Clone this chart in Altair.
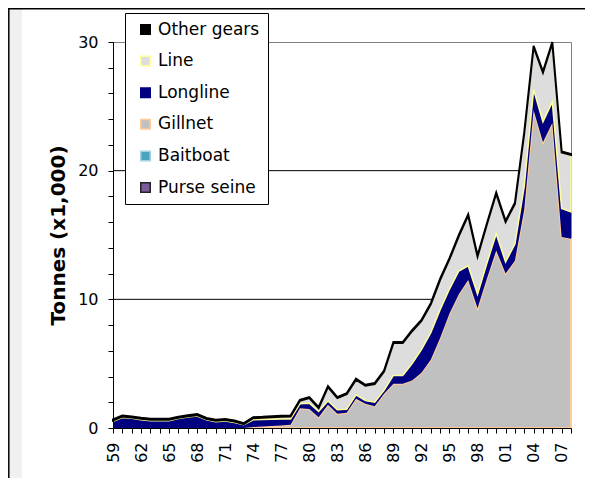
import altair as alt
import pandas as pd

years = list(range(1959, 2009))

purse_seine = [0.0, 0.0, 0.0, 0.0, 0.0, 0.0, 0.0, 0.0, 0.0, 0.0,
               0.0, 0.0, 0.0, 0.0, 0.0, 0.0, 0.0, 0.0, 0.0, 0.0,
               0.0, 0.0, 0.0, 0.0, 0.0, 0.0, 0.0, 0.0, 0.0, 0.0,
               0.0, 0.0, 0.0, 0.0, 0.0, 0.0, 0.0, 0.0, 0.0, 0.0,
               0.0, 0.0, 0.0, 0.0, 0.0, 0.0, 0.0, 0.0, 0.0, 0.0]
baitboat = [0.0, 0.0, 0.0, 0.0, 0.0, 0.0, 0.0, 0.0, 0.0, 0.0,
            0.0, 0.0, 0.0, 0.0, 0.0, 0.0, 0.0, 0.0, 0.0, 0.0,
            0.0, 0.0, 0.0, 0.0, 0.0, 0.0, 0.0, 0.0, 0.0, 0.0,
            0.0, 0.0, 0.0, 0.0, 0.0, 0.0, 0.0, 0.0, 0.0, 0.0,
            0.0, 0.0, 0.0, 0.0, 0.0, 0.0, 0.0, 0.0, 0.0, 0.0]
gillnet = [0.0, 0.0, 0.0, 0.0, 0.0, 0.0, 0.0, 0.0, 0.0, 0.0,
           0.0, 0.0, 0.0, 0.0, 0.0, 0.08, 0.12, 0.16, 0.20, 0.25,
           1.54, 1.48, 0.84, 1.80, 1.10, 1.18, 2.27, 1.88, 1.70, 2.66,
           3.44, 3.44, 3.70, 4.30, 5.30, 7.00, 8.90, 10.40, 11.50, 9.30,
           11.60, 13.80, 12.00, 13.00, 17.00, 24.70, 22.20, 23.70, 14.85, 14.70]
longline = [0.51, 0.82, 0.75, 0.65, 0.57, 0.57, 0.57, 0.73, 0.85, 0.93,
            0.63, 0.49, 0.55, 0.43, 0.25, 0.56, 0.54, 0.52, 0.49, 0.45,
            0.34, 0.45, 0.44, 0.30, 0.32, 0.27, 0.31, 0.26, 0.31, 0.26,
            0.65, 0.65, 1.30, 1.80, 2.10, 2.20, 1.90, 1.80, 1.10, 1.10,
            1.20, 1.30, 0.90, 1.30, 1.80, 1.60, 1.60, 1.65, 2.21, 2.10]
line = [0.07, 0.07, 0.07, 0.07, 0.07, 0.07, 0.07, 0.07, 0.07, 0.07,
        0.07, 0.07, 0.07, 0.07, 0.05, 0.12, 0.13, 0.16, 0.18, 0.19,
        0.23, 0.39, 0.26, 1.07, 0.90, 1.17, 1.17, 1.14, 1.40, 1.47,
        2.51, 2.51, 2.52, 2.22, 2.22, 2.32, 2.32, 2.72, 3.92, 2.92,
        3.02, 3.12, 3.12, 3.12, 4.12, 3.32, 3.82, 4.57, 4.36, 4.42]
other_gears = [0.08, 0.08, 0.08, 0.08, 0.08, 0.08, 0.08, 0.08, 0.08, 0.08,
               0.08, 0.08, 0.08, 0.08, 0.08, 0.08, 0.08, 0.08, 0.08, 0.08,
               0.08, 0.08, 0.08, 0.08, 0.08, 0.08, 0.08, 0.08, 0.08, 0.08,
               0.08, 0.08, 0.08, 0.08, 0.08, 0.08, 0.08, 0.08, 0.08, 0.08,
               0.08, 0.08, 0.08, 0.08, 0.08, 0.08, 0.08, 0.08, 0.08, 0.08]

series_names = ["Purse seine", "Baitboat", "Gillnet", "Longline", "Line", "Other gears"]
series_values = [purse_seine, baitboat, gillnet, longline, line, other_gears]
legend_order = ["Other gears", "Line", "Longline", "Gillnet", "Baitboat", "Purse seine"]
fill_colors = ["#000000", "#DDDDDD", "#000080", "#C0C0C0", "#4BA3BD", "#7B5C9C"]
stroke_colors = ["#000000", "#FFFF99", "#000080", "#FFCC99", "#A5D3E2", "#222222"]
stroke_widths = {"Purse seine": 0, "Baitboat": 0, "Gillnet": 2,
                 "Longline": 0, "Line": 1.5, "Other gears": 2}
y_ticks = list(range(0, 31, 2))
grid_values = [10, 20]

rows = []
for k, (name, vals) in enumerate(zip(series_names, series_values)):
    for yr, v in zip(years, vals):
        rows.append({"year": yr, "series": name, "value": v, "order": k})
df = pd.DataFrame(rows)

W, H = 458, 386
FONT = "DejaVu Sans"

legend = alt.Legend(title=None, orient="none", legendX=12, legendY=-29,
                    padding=8, symbolOffset=4, fillColor="white",
                    strokeColor="black", labelFontSize=17, labelFont=FONT,
                    labelColor="black", symbolType="square", symbolSize=90,
                    symbolStrokeWidth=1.5, rowPadding=13.6, labelOffset=4)

x_enc = alt.X("year:Q",
              scale=alt.Scale(domain=[1959, 2008], nice=False, zero=False),
              axis=alt.Axis(values=years, title=None, grid=False,
                            labelAngle=270, labelFontSize=16, labelFont=FONT,
                            labelColor="black", labelPadding=9, tickSize=5,
                            tickColor="black", domainColor="black",
                            labelExpr="(datum.value - 1959) % 3 == 0 ? substring(toString(datum.value), 2, 4) : ''",
                            labelOverlap=False, zindex=1))
y_scale = alt.Scale(domain=[0, 30], nice=False)
y_axis = alt.Axis(values=y_ticks, grid=False, title="Tonnes (x1,000)",
                  titleFontSize=20, titleFontWeight="bold", titleFont=FONT,
                  titleColor="black", titleX=-55, titleY=H / 2,
                  titleBaseline="middle",
                  labelExpr="datum.value % 10 == 0 ? datum.label : ''",
                  labelFontSize=16, labelFont=FONT, labelColor="black",
                  labelPadding=10, tickSize=5, tickColor="black",
                  domainColor="black", labelOverlap=False, zindex=1)

base = alt.Chart(df).transform_stack(
    stack="value", groupby=["year"], as_=["y0", "y1"],
    sort=[alt.SortField("order", order="ascending")])

grid = alt.Chart(pd.DataFrame({"g": grid_values})).mark_rule(
    color="black", strokeWidth=1).encode(y=alt.Y("g:Q", scale=y_scale, axis=y_axis))

layers = [grid]
for name in series_names:
    layers.append(
        base.transform_filter(alt.datum.series == name)
        .mark_area(strokeWidth=stroke_widths[name], strokeJoin="miter")
        .encode(
            x=x_enc,
            y=alt.Y("y1:Q", scale=y_scale, axis=y_axis),
            y2="y0:Q",
            color=alt.Color("series:N", scale=alt.Scale(domain=legend_order, range=fill_colors), legend=legend),
            stroke=alt.Stroke("series:N", scale=alt.Scale(domain=legend_order, range=stroke_colors), legend=legend),
        )
    )

deco = pd.DataFrame({"a": [0]})
strip = alt.Chart(deco).mark_rect(color="#F0F0F0").encode(
    x=alt.value(-105), x2=alt.value(-91), y=alt.value(-34), y2=alt.value(H + 60))
left_line = alt.Chart(deco).mark_rule(color="black", strokeWidth=1.5).encode(
    x=alt.value(-104.2), y=alt.value(-34), y2=alt.value(H + 60))
top_line = alt.Chart(deco).mark_rule(color="black", strokeWidth=1.5).encode(
    x=alt.value(-105), x2=alt.value(W + 20), y=alt.value(-33.2))
layers += [strip, left_line, top_line]

chart = alt.layer(*layers).properties(
    width=W, height=H,
    padding={"left": 105, "top": 34, "right": 14, "bottom": 50},
    autosize=alt.AutoSizeParams(type="none"),
).configure(font=FONT).configure_view(stroke="#808080", strokeWidth=1)

chart.save("out.html", embed_options={"renderer": "svg", "actions": False})
